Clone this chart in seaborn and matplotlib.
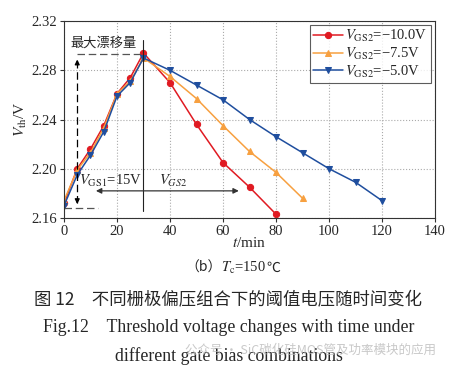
import numpy as np
import pandas as pd
import matplotlib
matplotlib.use('Agg')
import matplotlib.pyplot as plt
import seaborn as sns

# ── data ────────────────────────────────────────────────────────────────────
t_red = [0, 5, 10, 15, 20, 25, 30, 40, 50, 60, 70, 80]
v_red = [2.172, 2.200, 2.216, 2.235, 2.261, 2.274, 2.294, 2.270, 2.236, 2.205, 2.185, 2.163]

t_orange = [0, 5, 10, 15, 20, 25, 30, 40, 50, 60, 70, 80, 90]
v_orange = [2.174, 2.199, 2.213, 2.233, 2.261, 2.271, 2.290, 2.275, 2.257, 2.235, 2.214, 2.197, 2.176]

t_blue = [0, 5, 10, 15, 20, 25, 30, 40, 50, 60, 70, 80, 90, 100, 110, 120]
v_blue = [2.170, 2.195, 2.211, 2.230, 2.259, 2.270, 2.290, 2.280, 2.268, 2.256, 2.240,
          2.226, 2.213, 2.200, 2.189, 2.174]

labels = [r'$V_{\mathrm{GS2}}$=−10.0V', r'$V_{\mathrm{GS2}}$=−7.5V', r'$V_{\mathrm{GS2}}$=−5.0V']
colors = ['#e01a22', '#f7a040', '#1f4e9e']
markers = ['o', '^', 'v']

xticks = [0, 20, 40, 60, 80, 100, 120, 140]
yticks = [2.16, 2.20, 2.24, 2.28, 2.32]

sns.set_style('ticks')
plt.rcParams['font.family'] = ['Liberation Serif', 'Noto Sans CJK SC', 'DejaVu Sans']
plt.rcParams['mathtext.fontset'] = 'stix'
CJK = ['Noto Sans CJK SC', 'DejaVu Sans']

fig = plt.figure(figsize=(4.57, 3.70), dpi=100)
ax = fig.add_axes([0.140, 0.411, 0.812, 0.532])

series = [(t_red, v_red), (t_orange, v_orange), (t_blue, v_blue)]
for (t, v), lab, c, m in zip(series, labels, colors, markers):
    sns.lineplot(x=t, y=v, ax=ax, color=c, marker=m, markersize=4.5,
                 markeredgecolor=c, linewidth=1.1, label=lab)

ax.set_xlim(0, 140)
ax.set_ylim(2.16, 2.32)
ax.set_xticks(xticks)
ax.set_yticks(yticks)
ax.set_yticklabels([f'{y:.2f}' for y in yticks])
ax.tick_params(labelsize=10.5, length=3, width=0.8, color='#333333', pad=2)
ax.grid(True, linestyle=':', color='#aaaaaa', linewidth=0.8)
for s in ax.spines.values():
    s.set_color('#333333')
    s.set_linewidth(0.8)

ax.set_xlabel(r'$t$/min', fontsize=11, labelpad=-1)
ax.set_ylabel(r'$V_{\mathrm{th}}$/V', fontsize=11, labelpad=2)

# annotations
k = dict(color='black', linewidth=0.9)
ax.plot([5, 30], [2.293, 2.293], linestyle=(0, (6, 3)), color='#555555', linewidth=0.9)
ax.plot([0, 13], [2.168, 2.168], linestyle=(0, (6, 3)), color='#555555', linewidth=0.9)
ax.plot([5, 5], [2.172, 2.289], linestyle=(0, (6, 3)), **k)
ax.annotate('', xy=(5, 2.291), xytext=(5, 2.284),
            arrowprops=dict(arrowstyle='-|>', color='black', lw=0.9, mutation_scale=7))
ax.annotate('', xy=(5, 2.169), xytext=(5, 2.176),
            arrowprops=dict(arrowstyle='-|>', color='black', lw=0.9, mutation_scale=7))
ax.plot([30, 30], [2.166, 2.305], color='#222222', linewidth=0.8)
ax.annotate('', xy=(11, 2.182), xytext=(67, 2.182),
            arrowprops=dict(arrowstyle='<|-|>', color='#333333', lw=0.9, mutation_scale=8))
ax.text(2.3, 2.302, '最大漂移量', fontsize=9.5, family=CJK, va='center', ha='left')
ax.text(5.8, 2.190, r'$V_{\mathrm{GS1}}$=15V', fontsize=10.5, va='center', ha='left')
ax.text(36, 2.190, r'$V_{GS2}$', fontsize=10.5, va='center', ha='left')

leg = ax.legend(loc='upper right', fontsize=10.5, frameon=True, fancybox=False,
                borderpad=0.2, labelspacing=0.1, handlelength=2.0, handletextpad=0.2,
                borderaxespad=0.3)
leg.get_frame().set_edgecolor('#333333')
leg.get_frame().set_linewidth(0.8)

# caption
y0 = 1 - 268 / 370
t1 = fig.text(0.405, y0, '（b）', ha='left', va='center', fontsize=10, family=CJK)
t2 = ax.annotate(r'$T_{\mathrm{c}}$=150', xy=(1, 0.5), xycoords=t1, ha='left', va='center',
                 fontsize=10.5)
ax.annotate('℃', xy=(1, 0.5), xycoords=t2, ha='left', va='center', fontsize=10, family=CJK)
fig.text(0.5, 1 - 300 / 370, '图 12　不同栅极偏压组合下的阈值电压随时间变化', ha='center', va='center',
         fontsize=12.5, family=CJK)
fig.text(0.5, 1 - 327 / 370, 'Fig.12    Threshold voltage changes with time under', ha='center',
         va='center', fontsize=12.8)
fig.text(0.5, 1 - 356 / 370, 'different gate bias combinations', ha='center', va='center', fontsize=12.8)
fig.text(0.68, 1 - 350 / 370, '公众号 · SiC碳化硅MOS管及功率模块的应用', ha='center', va='center',
         fontsize=9, color='#bbbbbb', alpha=0.8, family=CJK)

fig.savefig('out.png', dpi=100)
